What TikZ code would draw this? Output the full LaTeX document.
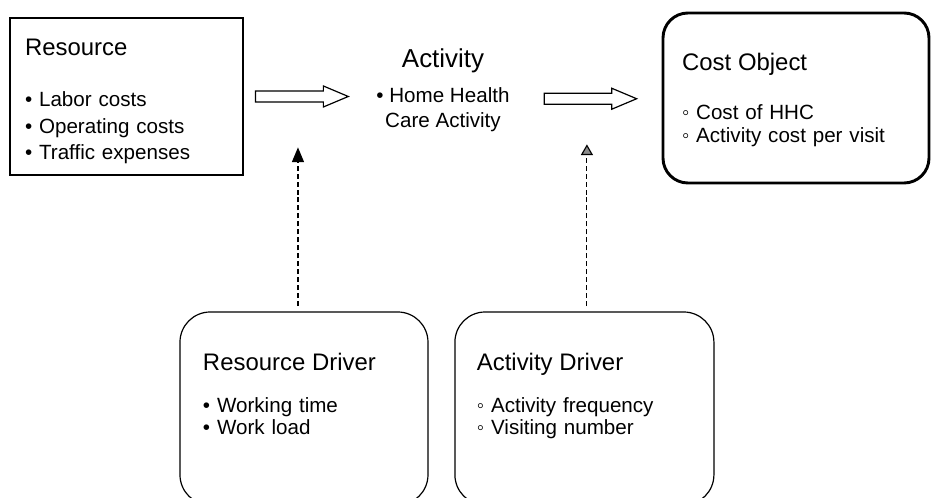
\documentclass[tikz,border=0pt]{standalone}
\usepackage{fontspec}
\setmainfont{Liberation Sans}
\usetikzlibrary{arrows.meta,calc}

\tikzset{
	plainbox/.style={draw=black, line width=0.9pt, align=left},
	costbox/.style={draw=black, line width=2.2pt, rounded corners=0.66cm, align=left},
	drvbox/.style={draw=black, line width=0.9pt, rounded corners=0.8cm, align=left},
	fatarrow/.style={draw=black, line width=0.9pt, to path={let \p1=(\tikztostart), \p2=(\tikztotarget) in
		(\x1,\y1+4.1pt) -- (\x2-18.75pt,\y1+4.1pt) -- (\x2-18.75pt,\y1+7.9pt) -- (\x2,\y1)
		-- (\x2-18.75pt,\y1-7.9pt) -- (\x2-18.75pt,\y1-4.1pt) -- (\x1,\y1-4.1pt) -- cycle}},
	drvarrow/.style={dash pattern=on 3.75pt off 2.25pt, line width=0.85pt, shorten <=4pt}
}

\begin{document}
\begin{tikzpicture}[node distance=1cm]
	\useasboundingbox (-3.347,2.553) rectangle (21.286,-10.623);

	\node[plainbox, text width=5.371cm, inner xsep=0.397cm, minimum height=4.154cm, text height=20.5pt, font=\fontsize{15.5}{20}\selectfont]%
		(res) at (0,0) {{\fontsize{18}{20}\selectfont Resource}\\[18.25pt] • Labor costs\\ • Operating costs\\ • Traffic expenses};
	\node[inner sep=0pt, align=center, font=\fontsize{15.5}{18.75}\selectfont, right of=res, xshift=7.374cm, yshift=0.169cm]%
		(act) {{\fontsize{19.5}{18.75}\selectfont Activity}\\[7.85pt] • Home Health\\ Care Activity};
	\node[costbox, text width=6.032cm, inner xsep=0.503cm, minimum height=4.498cm, text height=15.9pt, font=\fontsize{15.5}{17.25}\selectfont, right of=act, xshift=8.34cm, yshift=-0.209cm]%
		(cost) {{\fontsize{18}{17.25}\selectfont Cost Object}\\[19.4pt] ◦ Cost of HHC\\ ◦ Activity cost per visit};

	\node[drvbox, text width=5.344cm, inner xsep=0.609cm, minimum height=5.106cm, text depth=70pt, font=\fontsize{15.5}{16.5}\selectfont, below of=res, xshift=4.696cm, yshift=-7.255cm]%
		(resDrv) {{\fontsize{18}{16.5}\selectfont Resource Driver}\\[14.9pt] • Working time\\ • Work load};
	\node[drvbox, text width=5.689cm, inner xsep=0.582cm, minimum height=5.106cm, text depth=70pt, font=\fontsize{15.5}{16.5}\selectfont, right of=resDrv, xshift=6.42cm]%
		(actDrv) {{\fontsize{18}{16.5}\selectfont Activity Driver}\\[14.9pt] ◦ Activity frequency\\ ◦ Visiting number};

	\draw[fatarrow] ([xshift=9pt]res.east) to ([xshift=-21pt]act.west);
	\draw[fatarrow] ([xshift=26pt, yshift=-6.5pt]act.east) to ([xshift=-18.75pt]cost.west);

	\coordinate (resTip) at ([xshift=-0.159cm, yshift=4.339cm]resDrv.north);
	\coordinate (actTip) at ([xshift=0.066cm, yshift=4.419cm]actDrv.north);
	\draw[drvarrow, -{Triangle[length=11pt, width=9pt]}] ([xshift=-0.159cm]resDrv.north) -- (resTip);
	\draw[drvarrow, -{Triangle[length=8pt, width=9pt, fill=black!45]}] ([xshift=0.066cm]actDrv.north) -- (actTip);
\end{tikzpicture}
\end{document}
